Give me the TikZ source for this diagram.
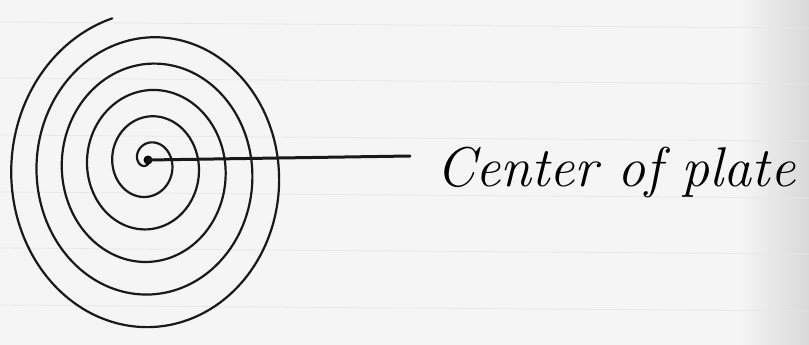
\documentclass[tikz,border=0pt]{standalone}
\usepackage{fontspec}
\tikzset{
  ink/.style={draw=black!90, line width=2.2pt, line cap=round, line join=round},
  pointer/.style={draw=black!90, line width=3pt, line cap=round},
  ruled/.style={draw=gray!18, line width=0.8pt},
  labeltext/.style={font=\fontsize{56}{60}\selectfont\itshape, text=black, inner sep=0pt, anchor=base west}
}
\begin{document}
\begin{tikzpicture}[x=1pt,y=-1pt]
  \useasboundingbox (0,0) rectangle (809,345);
  \fill[gray!8] (0,0) rectangle (809,345);
  \shade[left color=gray!8, right color=gray!30] (740,0) rectangle (809,345);
  % faint ruled lines of the paper
  \foreach \yy in {22,78,135,192,248,305} {
    \draw[ruled] (0,\yy) -- (809,\yy+6);
  }
  % spiral
  \draw[ink] plot[smooth, samples=600, domain=0:1, variable=\s]
    ({148 + 4*\s + (4 + 142*\s)*cos(1965*\s+90)},
     {160 + 17*\s + (4 + 161*\s)*sin(1965*\s+90)});
  % centre dot, line and label
  \node[circle, fill=black, inner sep=0pt, minimum size=9pt] (c) at (148,160) {};
  \coordinate (e) at (410,156);
  \draw[pointer] (c.center) -- (e);
  \node[labeltext] (lab) at (436,186) {Center of plate};
\end{tikzpicture}
\end{document}
